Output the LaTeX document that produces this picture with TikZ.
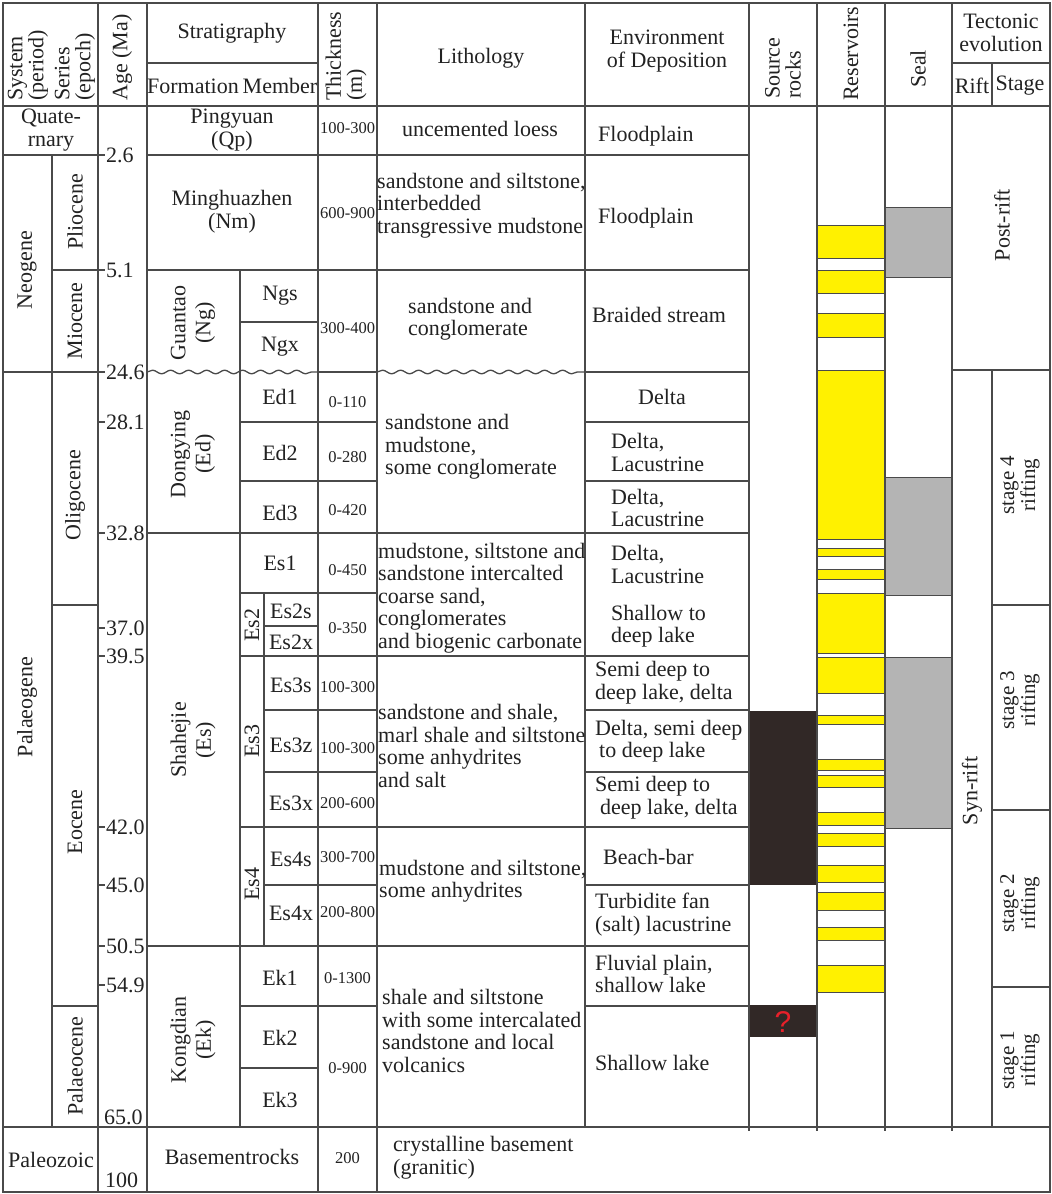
\documentclass[tikz,border=0pt]{standalone}
\usepackage{fontspec}
\setmainfont{Liberation Serif}
\newfontfamily\qfont{Liberation Sans}
\usetikzlibrary{decorations.pathmorphing}
\definecolor{linec}{HTML}{4A4A4A}
\definecolor{resy}{HTML}{FFF100}
\definecolor{sealg}{HTML}{B4B4B4}
\definecolor{srcb}{HTML}{312826}
\definecolor{qred}{HTML}{E8202A}
\definecolor{txtc}{HTML}{222222}
\tikzset{
  grid/.style={draw=linec, line width=1.3pt},
  wave/.style={draw=linec, line width=1.3pt, decorate, decoration={snake, segment length=18pt, amplitude=1.8pt}},
  T/.style={font=\fontsize{22}{23}\selectfont, inner sep=0pt, text=txtc},
  TC/.style={T, align=center},
  TL/.style={font=\fontsize{22}{22.5}\selectfont, inner sep=0pt, text=txtc, align=left, anchor=west},
  V/.style={T, rotate=90, align=center},
  V2/.style={font=\fontsize{22}{25}\selectfont, inner sep=0pt, text=txtc, rotate=90, align=center},
  VB/.style={font=\fontsize{22}{21}\selectfont, inner sep=0pt, text=txtc, rotate=90, align=left, anchor=west},
  VS/.style={font=\fontsize{21}{21}\selectfont, inner sep=0pt, text=txtc, rotate=90, align=center},
  TH/.style={font=\fontsize{16.5}{18}\selectfont, inner sep=0pt, text=txtc},
  AG/.style={T, anchor=west},
  res/.style={draw=linec, line width=1pt, fill=resy},
  sealbox/.style={draw=linec, line width=1pt, fill=sealg},
  srcbox/.style={fill=srcb}
}
\begin{document}
\begin{tikzpicture}[x=1pt,y=-1pt]
\useasboundingbox (0,0) rectangle (1052,1194);
\fill[white] (0,0) rectangle (1052,1194);
% ---- fills ----
\fill[srcbox] (749,711) rectangle (817,885);
\fill[srcbox] (749,1005) rectangle (817,1037);
\foreach \a/\b in {225/258,270/293,313/337,370/539,548/556,569/579,593/653,657/693,715/724,759/770,775/787,812/825,833/846,865/882,892/910,927/940,965/992}
  \draw[res] (817,\a) rectangle (885,\b);
\foreach \a/\b in {207/277,477/595,657/828}
  \draw[sealbox] (885,\a) rectangle (952,\b);
% ---- grid ----
\draw[grid] (3,3) rectangle (1050,1192);
\draw[grid] (52,155) -- (52,1127);
\draw[grid] (98,3) -- (98,1192);
\draw[grid] (147,3) -- (147,1192);
\draw[grid] (240,270) -- (240,1127);
\draw[grid] (264,593) -- (264,946);
\draw[grid] (318,3) -- (318,1192);
\draw[grid] (377,3) -- (377,1192);
\draw[grid] (585,3) -- (585,1127);
\foreach \x in {749,817,885,952} \draw[grid] (\x,3) -- (\x,1131);
\draw[grid] (992,63) -- (992,106);
\draw[grid] (992,370) -- (992,1127);
\draw[grid] (147,63) -- (318,63);
\draw[grid] (952,63) -- (1050,63);
\draw[grid] (3,106) -- (1050,106);
\draw[grid] (3,155) -- (105,155);
\draw[grid] (147,155) -- (749,155);
\draw[grid] (52,270) -- (105,270);
\draw[grid] (147,270) -- (749,270);
\draw[grid] (240,322) -- (318,322);
\draw[grid] (3,372) -- (105,372);
\draw[wave] (147,372) -- (318,372);
\draw[grid] (318,372) -- (377,372);
\draw[wave] (377,372) -- (585,372);
\draw[grid] (585,372) -- (749,372);
\draw[grid] (952,370) -- (1050,370);
\foreach \y in {422,533,628,656,827,885,946,985} \draw[grid] (98,\y) -- (105,\y);
\draw[grid] (240,422) -- (377,422);
\draw[grid] (585,422) -- (749,422);
\draw[grid] (240,481) -- (377,481);
\draw[grid] (585,481) -- (749,481);
\draw[grid] (147,533) -- (749,533);
\draw[grid] (240,593) -- (377,593);
\draw[grid] (52,605) -- (98,605);
\draw[grid] (992,605) -- (1050,605);
\draw[grid] (264,626) -- (318,626);
\draw[grid] (240,656) -- (749,656);
\draw[grid] (264,710) -- (377,710);
\draw[grid] (585,710) -- (749,710);
\draw[grid] (264,772) -- (377,772);
\draw[grid] (585,772) -- (749,772);
\draw[grid] (240,827) -- (749,827);
\draw[grid] (992,810) -- (1050,810);
\draw[grid] (264,885) -- (377,885);
\draw[grid] (585,885) -- (749,885);
\draw[grid] (147,946) -- (749,946);
\draw[grid] (992,987) -- (1050,987);
\draw[grid] (52,1006) -- (98,1006);
\draw[grid] (240,1006) -- (377,1006);
\draw[grid] (585,1006) -- (749,1006);
\draw[grid] (240,1068) -- (318,1068);
\draw[grid] (3,1127) -- (1050,1127);
% ---- header ----
\node[VB] (hsys) at (28,101) {System\\(period)};
\node[VB] (hser) at (75,101) {Series\\(epoch)};
\node[VB] (hage) at (122,101) {Age (Ma)};
\node[TC] (hstr) at (232,33) {Stratigraphy};
\node[TC] (hfor) at (193,86) {Formation};
\node[TC] (hmem) at (280,86) {Member};
\node[VB] (hthk) at (346,101) {Thickness\\(m)};
\node[TC] (hlit) at (481,58) {Lithology};
\node[TC] (henv) at (667,51) {Environment\\of Deposition};
\node[VB] (hsrc) at (783,99) {Source\\rocks};
\node[VB] (hres) at (851,101) {Reservoirs};
\node[V] (hseal) at (918,69) {Seal};
\node[TC] (htec) at (1001,33) {Tectonic\\evolution};
\node[TC] (hrift) at (972,86) {Rift};
\node[TC] (hstage) at (1020,86) {Stage};
% ---- system / series ----
\node[TC] (quat) at (51,130) {Quate-\\rnary};
\node[V] (neo) at (27,270) {Neogene};
\node[V] (plio) at (75,212) {Pliocene};
\node[V] (mio) at (75,321) {Miocene};
\node[V] (pal) at (27,707) {Palaeogene};
\node[V] (oli) at (75,495) {Oligocene};
\node[V] (eoc) at (75,822) {Eocene};
\node[V] (palc) at (75,1066) {Palaeocene};
\node[TC] (pz) at (51,1160) {Paleozoic};
% ---- ages ----
\node[AG] (a1) at (106,155) {2.6};
\node[AG] (a2) at (106,270) {5.1};
\node[AG] (a3) at (106,372) {24.6};
\node[AG] (a4) at (106,422) {28.1};
\node[AG] (a5) at (106,533) {32.8};
\node[AG] (a6) at (106,628) {37.0};
\node[AG] (a7) at (106,656) {39.5};
\node[AG] (a8) at (106,827) {42.0};
\node[AG] (a9) at (106,885) {45.0};
\node[AG] (a10) at (106,946) {50.5};
\node[AG] (a11) at (106,985) {54.9};
\node[AG] (a12) at (104,1117) {65.0};
\node[AG] (a13) at (105,1180) {100};
% ---- stratigraphy ----
\node[TC] (qp) at (232,130) {Pingyuan\\(Qp)};
\node[TC] (nm) at (232,212) {Minghuazhen\\(Nm)};
\node[V2] (ng) at (193,323) {Guantao\\(Ng)};
\node[TC] (ngs) at (280,296) {Ngs};
\node[TC] (ngx) at (280,347) {Ngx};
\node[V2] (ed) at (193,454) {Dongying\\(Ed)};
\node[TC] (ed1) at (280,397) {Ed1};
\node[TC] (ed2) at (280,453) {Ed2};
\node[TC] (ed3) at (280,513) {Ed3};
\node[V2] (es) at (193,740) {Shahejie\\(Es)};
\node[TC] (es1) at (280,563) {Es1};
\node[V] (es2) at (252,625) {Es2};
\node[TC] (es2s) at (291,611) {Es2s};
\node[TC] (es2x) at (291,642) {Es2x};
\node[V] (es3) at (252,741) {Es3};
\node[TC] (es3s) at (291,685) {Es3s};
\node[TC] (es3z) at (291,745) {Es3z};
\node[TC] (es3x) at (291,803) {Es3x};
\node[V] (es4) at (252,884) {Es4};
\node[TC] (es4s) at (291,859) {Es4s};
\node[TC] (es4x) at (291,913) {Es4x};
\node[V2] (ek) at (193,1040) {Kongdian\\(Ek)};
\node[TC] (ek1) at (280,978) {Ek1};
\node[TC] (ek2) at (280,1038) {Ek2};
\node[TC] (ek3) at (280,1100) {Ek3};
\node[TC] (bas) at (232,1157) {Basementrocks};
% ---- thickness ----
\node[TH] (t1) at (347.5,128) {100-300};
\node[TH] (t2) at (347.5,213) {600-900};
\node[TH] (t3) at (347.5,328) {300-400};
\node[TH] (t4) at (347.5,402) {0-110};
\node[TH] (t5) at (347.5,457) {0-280};
\node[TH] (t6) at (347.5,510) {0-420};
\node[TH] (t7) at (347.5,570) {0-450};
\node[TH] (t8) at (347.5,628) {0-350};
\node[TH] (t9) at (347.5,687) {100-300};
\node[TH] (t10) at (347.5,748) {100-300};
\node[TH] (t11) at (347.5,803) {200-600};
\node[TH] (t12) at (347.5,857) {300-700};
\node[TH] (t13) at (347.5,912) {200-800};
\node[TH] (t14) at (347.5,978) {0-1300};
\node[TH] (t15) at (347.5,1068) {0-900};
\node[TH] (t16) at (347.5,1158) {200};
% ---- lithology ----
\node[TC] (l1) at (480,129) {uncemented loess};
\node[TL] (l2) at (377,205.5) {sandstone and siltstone,\\interbedded\\transgressive mudstone};
\node[TL] (l3) at (408,319) {sandstone and\\conglomerate};
\node[TL] (l4) at (385,447) {sandstone and\\mudstone,\\some conglomerate};
\node[TL] (l5) at (378,598) {mudstone, siltstone and\\sandstone intercalted\\coarse sand,\\conglomerates\\and biogenic carbonate};
\node[TL] (l6) at (378,746) {sandstone and shale,\\marl shale and siltstone\\some anhydrites\\and salt};
\node[TL] (l7) at (379,881) {mudstone and siltstone,\\some anhydrites};
\node[TL] (l8) at (382,1031) {shale and siltstone\\with some intercalated\\sandstone and local\\volcanics};
\node[TL] (l9) at (393,1157.5) {crystalline basement\\(granitic)};
% ---- environment ----
\node[TL] (e1) at (598,136) {Floodplain};
\node[TL] (e2) at (598,218) {Floodplain};
\node[TL] (e3) at (592,315) {Braided stream};
\node[TC] (e4) at (662,397) {Delta};
\node[TL] (e5) at (611,452.5) {Delta,\\Lacustrine};
\node[TL] (e6) at (611,508) {Delta,\\Lacustrine};
\node[TL] (e7) at (611,564.5) {Delta,\\Lacustrine};
\node[TL] (e8) at (611,626) {Shallow to\\deep lake};
\node[TL] (e9) at (595,682.5) {Semi deep to\\deep lake, delta};
\node[TL] (e10) at (595,741) {Delta, semi deep\\\hspace*{4pt}to deep lake};
\node[TL] (e11) at (595,797.5) {Semi deep to\\\hspace*{5pt}deep lake, delta};
\node[TL] (e12) at (603,857) {Beach-bar};
\node[TL] (e13) at (595,914.5) {Turbidite fan\\(salt) lacustrine};
\node[TL] (e14) at (595,974) {Fluvial plain,\\shallow lake};
\node[TL] (e15) at (595,1063) {Shallow lake};
% ---- right columns ----
\node[font=\qfont\fontsize{30}{30}\selectfont, text=qred, inner sep=0pt] (q) at (783,1022) {?};
\node[V] (post) at (1002,225) {Post-rift};
\node[V] (syn) at (972,791) {Syn-rift};
\node[VS] (st4) at (1020,485) {stage 4\\rifting};
\node[VS] (st3) at (1020,700) {stage 3\\rifting};
\node[VS] (st2) at (1020,903) {stage 2\\rifting};
\node[VS] (st1) at (1020,1060) {stage 1\\rifting};
\end{tikzpicture}
\end{document}
